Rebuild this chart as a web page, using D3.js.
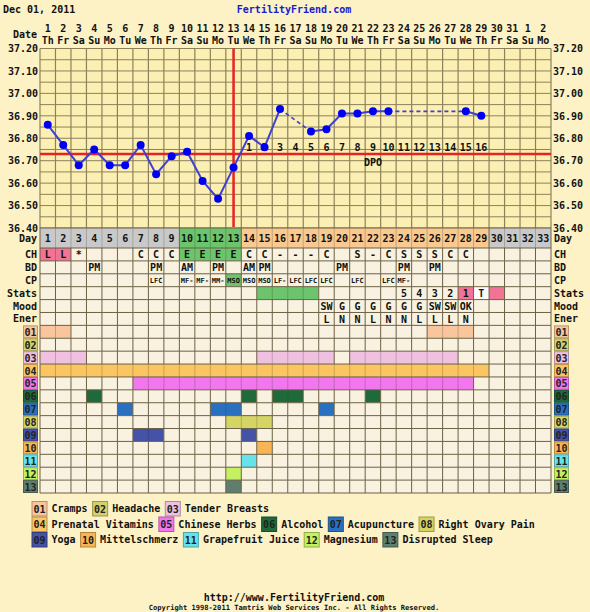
<!DOCTYPE html>
<html><head><meta charset="utf-8">
<script src="https://cdn.jsdelivr.net/npm/d3@7"></script>
<style>
body{margin:0;background:#fdf2c6;}
text{font-family:"DejaVu Sans Mono",monospace;font-weight:bold;fill:#111;}
</style>
</head><body>
<svg id="c" width="590" height="612"></svg>
<script>
// ---------------- DATA ----------------
const days = [1,2,3,4,5,6,7,8,9,10,11,12,13,14,15,16,17,18,19,20,21,22,23,24,25,26,27,28,29,30,31,32,33];
const dateLabels = ["1","2","3","4","5","6","7","8","9","10","11","12","13","14","15","16","17","18","19","20","21","22","23","24","25","26","27","28","29","30","31","1","2"];
const weekdays = ["Th","Fr","Sa","Su","Mo","Tu","We","Th","Fr","Sa","Su","Mo","Tu","We","Th","Fr","Sa","Su","Mo","Tu","We","Th","Fr","Sa","Su","Mo","Tu","We","Th","Fr","Sa","Su","Mo"];
const temps = [36.86,36.77,36.68,36.75,36.68,36.68,36.77,36.64,36.72,36.74,36.61,36.53,36.67,36.81,36.76,36.93,null,36.83,36.84,36.91,36.91,36.92,36.92,null,null,null,null,36.92,36.90];
const tempTicks = [36.40,36.50,36.60,36.70,36.80,36.90,37.00,37.10,37.20];
const coverline = 36.73;
const ovulationDay = 13;
const dpoDays = [14,15,16,17,18,19,20,21,22,23,24,25,26,27,28,29];
const dpoLabels = ["1","2","3","4","5","6","7","8","9","10","11","12","13","14","15","16"];
const phases = ["m","m","m","m","m","m","m","m","m","f","f","f","f","l","l","l","l","l","l","l","l","l","l","l","l","l","l","l","l","n","n","n","n"];
const chValues = ["L","L","*","","","","C","C","C","E","E","E","E","C","C","-","-","-","C","","S","-","C","S","S","S","C","C"];
const bdValues = ["","","","PM","","","","PM","","AM","","PM","","AM","PM","","","","","PM","","","","PM","","PM"];
const cpValues = ["","","","","","","","LFC","","MF-","MF-","MM-","MSO","MSO","MSO","LF-","LFC","LFC","LFC","","LFC","","LFC","MF-"];
const cpPeak = [13];
const statsValues = ["","","","","","","","","","","","","","","","","","","","","","","","5","4","3","2","1","T",""];
const statsFlags  = ["","","","","","","","","","","","","","","g","g","g","g","","","","","","","","","","p","w","p"];
const moodValues = ["","","","","","","","","","","","","","","","","","","SW","G","G","G","G","G","G","SW","SW","OK"];
const enerValues = ["","","","","","","","","","","","","","","","","","","L","N","N","L","N","N","L","L","L","N"];
const symptomCodes = ["01","02","03","04","05","06","07","08","09","10","11","12","13"];
const symptomNames = ["Cramps","Headache","Tender Breasts","Prenatal Vitamins","Chinese Herbs","Alcohol","Acupuncture","Right Ovary Pain","Yoga","Mittelschmerz","Grapefruit Juice","Magnesium","Disrupted Sleep"];
const symptomDays = [
  [1,2,26,27,28],
  [],
  [1,2,3,15,16,17,18,19,21,22,23,24,25,26,27],
  [1,2,3,4,5,6,7,8,9,10,11,12,13,14,15,16,17,18,19,20,21,22,23,24,25,26,27,28,29],
  [7,8,9,10,11,12,13,14,15,16,17,18,19,20,21,22,23,24,25,26,27,28],
  [4,14,16,17,22],
  [6,12,13,19],
  [13,14,15],
  [7,8,14],
  [15],
  [14],
  [13],
  [13]
];
const legendLines = [["01","02","03"],["04","05","06","07","08"],["09","10","11","12","13"]];

// ---------------- STYLE ----------------
const symptomColors = ["#f9c59c","#d2d16e","#efc0df","#fbc562","#f276ee","#1f6a3a","#2a70c0","#d5d565","#4452a8","#f9b553","#66e3ea","#c4f062","#5e7e6f"];
const phaseColors = {m:"#c9c9c9", f:"#6cc46c", l:"#f9c98f", n:"#c9c9c9"};
const pink = "#f27393", green = "#6cc46c", cream = "#faf2e0", dark = "#6b6147", plotBg = "#fcefb3", gridCol = "#8c8259";
const red = "#e62222", blue = "#0000f0", lineBlue = "#3f3fd4";

const svg = d3.select("#c");
const x = d3.scaleBand().domain(days).range([40, 551]);
const cw = x.bandwidth();
const cx = d => x(d) + cw / 2;
const y = d3.scaleLinear().domain([36.4, 37.2]).range([228, 48.5]);

// Header
svg.append("text").attr("x", 3).attr("y", 9).attr("dy", "0.35em").style("font-size", "10px").text("Dec 01, 2011");
svg.append("text").attr("x", 294).attr("y", 9).attr("dy", "0.35em").attr("text-anchor", "middle")
  .style("font-size", "10px").style("fill", "#1a1ad0").text("FertilityFriend.com");
svg.append("text").attr("x", 37).attr("y", 34).attr("dy", "0.35em").attr("text-anchor", "end").style("font-size", "10px").text("Date");
svg.append("g").selectAll("text").data(days).join("text")
  .attr("x", d => cx(d)).attr("y", 28.5).attr("dy", "0.35em").attr("text-anchor", "middle").style("font-size", "10px")
  .text((d, i) => dateLabels[i]);
svg.append("g").selectAll("text").data(days).join("text")
  .attr("x", d => cx(d)).attr("y", 40).attr("dy", "0.35em").attr("text-anchor", "middle").style("font-size", "10px")
  .text((d, i) => weekdays[i]);

// Plot background and grid
svg.append("rect").attr("x", 40).attr("y", y(37.2)).attr("width", 511).attr("height", y(36.4) - y(37.2)).attr("fill", plotBg);
const gridVals = d3.range(0, 17).map(i => 36.4 + i * 0.05);
svg.append("g").selectAll("line").data(gridVals).join("line")
  .attr("x1", 40).attr("x2", 551).attr("y1", d => y(d)).attr("y2", d => y(d))
  .attr("stroke", gridCol).attr("stroke-width", 1);
svg.append("g").selectAll("line").data(days.concat([34])).join("line")
  .attr("x1", d => d === 34 ? 551 : x(d)).attr("x2", d => d === 34 ? 551 : x(d))
  .attr("y1", y(37.2)).attr("y2", y(36.4))
  .attr("stroke", gridCol).attr("stroke-width", 1.2);

// Axes
const axL = svg.append("g").attr("transform", "translate(38,0)")
  .call(d3.axisLeft(y).tickValues(tempTicks).tickFormat(d3.format(".2f")).tickSize(0).tickPadding(0));
const axR = svg.append("g").attr("transform", "translate(553,0)")
  .call(d3.axisRight(y).tickValues(tempTicks).tickFormat(d3.format(".2f")).tickSize(0).tickPadding(0));
[axL, axR].forEach(a => {
  a.select(".domain").remove();
  a.selectAll("text").style("font-size", "10px").style("font-family", "DejaVu Sans Mono, monospace").style("font-weight", "bold").attr("fill", "#111");
});

// Coverline and ovulation line
svg.append("line").attr("x1", 40).attr("x2", 551).attr("y1", y(coverline)).attr("y2", y(coverline))
  .attr("stroke", red).attr("stroke-width", 2.5);
svg.append("line").attr("x1", cx(ovulationDay)).attr("x2", cx(ovulationDay)).attr("y1", y(37.2)).attr("y2", y(36.4) - 1)
  .attr("stroke", red).attr("stroke-width", 2.5);

// DPO labels
svg.append("g").selectAll("text").data(dpoDays).join("text")
  .attr("x", d => cx(d)).attr("y", 147.5).attr("dy", "0.35em").attr("text-anchor", "middle").style("font-size", "10px")
  .text((d, i) => dpoLabels[i]);
svg.append("text").attr("x", cx(22)).attr("y", 162.5).attr("dy", "0.35em").attr("text-anchor", "middle").style("font-size", "10px").text("DPO");

// Temperature line
const tpts = temps.map((t, i) => ({d: days[i], t}));
const recorded = tpts.filter(p => p.t != null);
const line = d3.line().defined(p => p.t != null).x(p => cx(p.d)).y(p => y(p.t));
svg.append("path").datum(tpts).attr("d", line).attr("fill", "none").attr("stroke", lineBlue).attr("stroke-width", 2);
const gaps = [];
for (let i = 1; i < recorded.length; i++) if (recorded[i].d - recorded[i-1].d > 1) gaps.push([recorded[i-1], recorded[i]]);
svg.append("g").selectAll("line").data(gaps).join("line")
  .attr("x1", g => cx(g[0].d)).attr("y1", g => y(g[0].t)).attr("x2", g => cx(g[1].d)).attr("y2", g => y(g[1].t))
  .attr("stroke", lineBlue).attr("stroke-width", 1.6).attr("stroke-dasharray", "4,3");
svg.append("g").selectAll("circle").data(recorded).join("circle")
  .attr("cx", p => cx(p.d)).attr("cy", p => y(p.t)).attr("r", 4).attr("fill", blue);

// ---------------- TABLE ----------------
const rowNames = ["CH","BD","CP","Stats","Mood","Ener"].concat(symptomCodes);
const ry = d3.scaleBand().domain(rowNames).range([248, 493]);
const rh = ry.bandwidth();
const rows = [{name: "Day", y0: 228, h: 20}].concat(rowNames.map(n => ({name: n, y0: ry(n), h: rh})));

function cellFill(row, day) {
  const i = day - 1;
  if (row === "Day") return phaseColors[phases[i]];
  if (row === "CH") { if (chValues[i] === "L") return pink; if (chValues[i] === "E") return green; return null; }
  if (row === "CP") return cpPeak.includes(day) ? green : null;
  if (row === "Stats") { const f = statsFlags[i]; return f === "g" ? green : f === "p" ? pink : f === "w" ? "#ffffff" : null; }
  const si = symptomCodes.indexOf(row);
  if (si >= 0) return symptomDays[si].includes(day) ? symptomColors[si] : null;
  return null;
}
function cellText(row, day) {
  const i = day - 1;
  const m = {Day: dateLabels.map((_, k) => String(k + 1)), CH: chValues, BD: bdValues, CP: cpValues, Stats: statsValues, Mood: moodValues, Ener: enerValues};
  const arr = m[row];
  return arr ? (arr[i] || "") : "";
}
const tbl = svg.append("g");
rows.forEach(r => {
  const g = tbl.append("g");
  g.selectAll("rect").data(days).join("rect")
    .attr("x", d => x(d)).attr("y", r.y0).attr("width", cw).attr("height", r.h)
    .attr("fill", d => cellFill(r.name, d) || cream);
  const bounds = days.concat([34]);
  g.selectAll("line").data(bounds).join("line")
    .attr("x1", d => d === 34 ? 551 : x(d)).attr("x2", d => d === 34 ? 551 : x(d))
    .attr("y1", r.y0).attr("y2", r.y0 + r.h)
    .attr("stroke", d => {
      const a = d > 1 ? cellFill(r.name, d - 1) : null;
      const b = d < 34 ? cellFill(r.name, d) : null;
      if (a && b && a === b) return d3.color(a).darker(0.6).formatHex();
      return dark;
    }).attr("stroke-width", 1);
  g.selectAll("text").data(days.filter(d => cellText(r.name, d) !== "")).join("text")
    .attr("x", d => cx(d)).attr("y", r.y0 + r.h / 2 + 0.5).attr("dy", "0.35em").attr("text-anchor", "middle")
    .style("font-size", r.name === "CP" ? "7px" : "10px")
    .text(d => cellText(r.name, d));
});
const hys = [228].concat(rowNames.map(n => ry(n))).concat([493]);
tbl.append("g").selectAll("line").data(hys).join("line")
  .attr("x1", 40).attr("x2", 551).attr("y1", d => d).attr("y2", d => d).attr("stroke", dark).attr("stroke-width", 1);

// Row labels
const textRows = ["Day","CH","BD","CP","Stats","Mood","Ener"];
rows.filter(r => textRows.includes(r.name)).forEach(r => {
  svg.append("text").attr("x", 37).attr("y", r.y0 + r.h / 2).attr("dy", "0.35em").attr("text-anchor", "end").style("font-size", "10px").text(r.name);
  svg.append("text").attr("x", 554).attr("y", r.y0 + r.h / 2).attr("dy", "0.35em").style("font-size", "10px").text(r.name);
});
symptomCodes.forEach((c, i) => {
  [23, 554].forEach(bx => {
    svg.append("rect").attr("x", bx + 0.5).attr("y", ry(c) + 0.5).attr("width", 14).attr("height", rh - 1)
      .attr("fill", symptomColors[i]).attr("stroke", d3.color(symptomColors[i]).darker(0.8).formatHex()).attr("stroke-width", 1);
    svg.append("text").attr("x", bx + 7.5).attr("y", ry(c) + rh / 2 + 0.5).attr("dy", "0.35em").attr("text-anchor", "middle")
      .style("font-size", "10px").style("fill", "#222").text(c);
  });
});

// ---------------- LEGEND ----------------
const legY = [508.5, 524, 539.5];
legendLines.forEach((codes, li) => {
  let lx = 32;
  codes.forEach(c => {
    const i = symptomCodes.indexOf(c);
    svg.append("rect").attr("x", lx).attr("y", legY[li] - 7).attr("width", 15).attr("height", 14.5)
      .attr("fill", symptomColors[i]).attr("stroke", d3.color(symptomColors[i]).darker(0.9).formatHex()).attr("stroke-width", 1);
    svg.append("text").attr("x", lx + 7.5).attr("y", legY[li] + 0.5).attr("dy", "0.35em").attr("text-anchor", "middle")
      .style("font-size", "10px").style("fill", "#222").text(c);
    const t = svg.append("text").attr("x", lx + 19.5).attr("y", legY[li]).attr("dy", "0.35em").style("font-size", "10px").text(symptomNames[i]);
    lx = lx + 19.5 + t.node().getComputedTextLength() + 5;
  });
});

// Footer
svg.append("text").attr("x", 294).attr("y", 597).attr("dy", "0.35em").attr("text-anchor", "middle").style("font-size", "10px").text("http://www.FertilityFriend.com");
svg.append("text").attr("x", 294).attr("y", 607.5).attr("dy", "0.35em").attr("text-anchor", "middle").style("font-size", "7.1px").text("Copyright 1998-2011 Tamtris Web Services Inc. - All Rights Reserved.");
</script>
</body></html>
